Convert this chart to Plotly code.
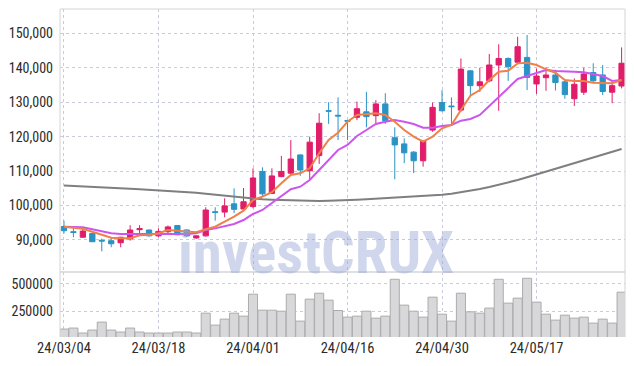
import plotly.graph_objects as go

dates = [
    "2024-03-04", "2024-03-05", "2024-03-06", "2024-03-07", "2024-03-08",
    "2024-03-11", "2024-03-12", "2024-03-13", "2024-03-14", "2024-03-15",
    "2024-03-18", "2024-03-19", "2024-03-20", "2024-03-21", "2024-03-22",
    "2024-03-25", "2024-03-26", "2024-03-27", "2024-03-28", "2024-03-29",
    "2024-04-01", "2024-04-02", "2024-04-03", "2024-04-04", "2024-04-05",
    "2024-04-08", "2024-04-09", "2024-04-11", "2024-04-12", "2024-04-15",
    "2024-04-16", "2024-04-17", "2024-04-18", "2024-04-19", "2024-04-22",
    "2024-04-23", "2024-04-24", "2024-04-25", "2024-04-26", "2024-04-29",
    "2024-04-30", "2024-05-02", "2024-05-03", "2024-05-07", "2024-05-08",
    "2024-05-09", "2024-05-10", "2024-05-13", "2024-05-14", "2024-05-16",
    "2024-05-17", "2024-05-20", "2024-05-21", "2024-05-22", "2024-05-23",
    "2024-05-24", "2024-05-27", "2024-05-28", "2024-05-29", "2024-05-30",
]

open_ = [93900, 92400, 90800, 91900, 89900, 89800, 89200, 90300, 93000, 92900,
         91200, 92400, 94200, 92900, 90600, 91200, 98200, 98100, 100500, 99000,
         99700, 109900, 103500, 108400, 109400, 114700, 110100, 114500, 127500, 126200,
         124700, 125600, 127200, 126100, 129500, 119700, 117900, 115500, 113000, 121900,
         129900, 128900, 127700, 139100, 134800, 136200, 140800, 142700, 141600, 143000,
         135300, 137100, 137900, 135900, 131000, 132900, 138600, 137900, 132900, 134700]
high = [95600, 93800, 93300, 92000, 90400, 90800, 90900, 94300, 94300, 93000,
        93400, 94200, 94300, 93000, 91300, 99500, 99500, 102100, 105000, 105100,
        110800, 111100, 110800, 114400, 119000, 114800, 120000, 126800, 130000, 131400,
        124800, 130200, 133000, 130600, 132600, 122700, 119500, 115800, 118800, 129900,
        133500, 131400, 142700, 139300, 140000, 144000, 146800, 143000, 149000, 149500,
        139800, 140100, 139400, 136400, 136900, 140000, 141300, 140800, 136000, 145900]
low = [91900, 90800, 90700, 89500, 86700, 87900, 87900, 89800, 91600, 91000,
       90800, 92000, 91400, 91000, 90300, 91000, 95600, 96600, 97800, 98800,
       99200, 102600, 103300, 108200, 109000, 108600, 107400, 112100, 123700, 119000,
       119000, 124800, 122700, 123900, 123700, 107600, 112300, 109400, 111300, 121400,
       127300, 123100, 127200, 132100, 133000, 135800, 127500, 136200, 141300, 133500,
       132400, 133300, 133400, 131000, 128900, 132100, 135600, 132100, 129700, 134000]
close = [92700, 92200, 92600, 89500, 89700, 88900, 90800, 92900, 93300, 91200,
         92500, 93800, 91500, 91200, 91200, 98700, 98000, 99900, 98900, 101100,
         108000, 103400, 108600, 109900, 113500, 110300, 118400, 123900, 127400, 126000,
         124500, 128100, 125800, 129500, 124600, 117600, 115300, 113000, 118700, 128500,
         127500, 128700, 139600, 134800, 135900, 140800, 142700, 140300, 146100, 137200,
         137600, 137900, 135700, 132200, 135200, 138200, 136200, 133100, 134800, 141300]

ma_short = [93860, 93480, 93280, 92410, 91450, 90670, 90490, 90490, 91360, 91450,
            91940, 92900, 92700, 92410, 92230, 93100, 93860, 95310, 96760, 98500,
            101610, 102570, 103850, 106460, 108870, 109360, 110810, 115170, 119030, 121150,
            124340, 126280, 126570, 126780, 126280, 124340, 121930, 120000, 118530, 119990,
            122420, 123380, 127740, 131890, 133540, 136440, 138850, 139140, 141270, 141470,
            140800, 139550, 138560, 136440, 136150, 136150, 135660, 135470, 135470, 136440]
ma_mid = [93860, 93860, 93680, 93100, 92410, 91940, 91740, 91740, 91650, 91650,
          91650, 91740, 91740, 91740, 91940, 92900, 93380, 94060, 94640, 95800,
          97550, 98710, 100650, 102570, 104720, 105470, 107420, 110320, 113220, 116130,
          117580, 120190, 121930, 123670, 124340, 124830, 124340, 123670, 122600, 122600,
          123090, 123380, 124630, 125120, 126280, 128900, 131600, 134320, 136730, 137600,
          138560, 139350, 139060, 138850, 138850, 138660, 138190, 137600, 136150, 136440]
ma_long = [105800, 105700, 105600, 105450, 105350, 105200, 105050, 104900, 104750, 104600,
           104500, 104350, 104150, 103950, 103700, 103400, 103100, 102800, 102500, 102200,
           101950, 101800, 101700, 101600, 101500, 101400, 101350, 101350, 101400, 101450,
           101550, 101700, 101850, 102000, 102150, 102300, 102400, 102500, 102600, 102800,
           103100, 103450, 103850, 104300, 104800, 105400, 106000, 106700, 107400, 108200,
           109000, 109800, 110600, 111400, 112200, 113000, 113800, 114700, 115600, 116400]

volume = [91000, 100000, 55000, 82000, 154000, 82000, 64000, 100000, 64000, 55000,
          55000, 55000, 64000, 64000, 55000, 235000, 127000, 181000, 235000, 208000,
          407000, 262000, 262000, 253000, 407000, 163000, 362000, 416000, 353000, 259000,
          199000, 208000, 253000, 190000, 208000, 542000, 308000, 253000, 199000, 380000,
          226000, 163000, 416000, 247000, 235000, 281000, 542000, 326000, 371000, 551000,
          335000, 226000, 172000, 217000, 190000, 199000, 145000, 181000, 145000, 425000]

tick_dates = ["2024-03-04", "2024-03-18", "2024-04-01", "2024-04-16", "2024-04-30", "2024-05-17"]
tick_text = ["24/03/04", "24/03/18", "24/04/01", "24/04/16", "24/04/30", "24/05/17"]
price_ticks = [90000, 100000, 110000, 120000, 130000, 140000, 150000]
volume_ticks = [250000, 500000]

RED = "#e11d6a"
BLUE = "#2a93c6"
GRID = "#c8cade"
FRAME = "#d4d4d8"
FONT = "Roboto Condensed, Roboto, sans-serif"

fig = go.Figure()
fig.add_trace(go.Candlestick(
    x=dates, open=open_, high=high, low=low, close=close,
    increasing=dict(line=dict(color=RED, width=1), fillcolor=RED),
    decreasing=dict(line=dict(color=BLUE, width=1), fillcolor=BLUE),
    whiskerwidth=0, xaxis="x", yaxis="y", showlegend=False, hoverinfo="skip"))
fig.add_trace(go.Scatter(x=dates, y=ma_long, mode="lines", line=dict(color="#7f7f7f", width=2),
                         xaxis="x", yaxis="y", showlegend=False, hoverinfo="skip"))
fig.add_trace(go.Scatter(x=dates, y=ma_mid, mode="lines", line=dict(color="#cc55ee", width=2),
                         xaxis="x", yaxis="y", showlegend=False, hoverinfo="skip"))
fig.add_trace(go.Scatter(x=dates, y=ma_short, mode="lines", line=dict(color="#ee8048", width=2),
                         xaxis="x", yaxis="y", showlegend=False, hoverinfo="skip"))
fig.add_trace(go.Bar(x=dates, y=volume, marker=dict(color="#d8d8da", line=dict(color="#acacae", width=1)),
                     xaxis="x2", yaxis="y2", showlegend=False, hoverinfo="skip"))

split = (337 - 272) / 328
xr = [-0.42, 59.36]
common_x = dict(type="category", range=xr, tickvals=tick_dates, ticktext=tick_text,
                showgrid=True, gridcolor=GRID, griddash="dot", gridwidth=1,
                showline=False, zeroline=False, ticks="", fixedrange=True, automargin=False)
fig.update_layout(
    width=634, height=366,
    margin=dict(l=60, r=9, t=9, b=29),
    paper_bgcolor="white", plot_bgcolor="white",
    bargap=0.04, boxgap=0.2,
    font=dict(family=FONT, size=14, color="#2b2b2b"),
    xaxis=dict(common_x, anchor="y", showticklabels=False, rangeslider=dict(visible=False)),
    xaxis2=dict(common_x, anchor="y2", matches="x", showticklabels=True,
                tickfont=dict(family=FONT, size=14.5, color="#2b2b2b")),
    yaxis=dict(domain=[split, 1], range=[80710, 157050], tickvals=price_ticks, tickformat=",",
               showgrid=True, gridcolor=GRID, griddash="dot", zeroline=False, showline=False,
               ticklabelstandoff=6, automargin=False),
    yaxis2=dict(domain=[0, split], range=[19000, 608000], tickvals=volume_ticks, tickformat="d",
                showgrid=True, gridcolor=GRID, griddash="dot", zeroline=False, showline=False,
                ticklabelstandoff=6, automargin=False),
    shapes=[
        dict(type="line", xref="paper", yref="paper", x0=0, x1=1, y0=1, y1=1, line=dict(color=FRAME, width=1)),
        dict(type="line", xref="paper", yref="paper", x0=0, x1=0, y0=0, y1=1, line=dict(color=FRAME, width=1)),
        dict(type="line", xref="paper", yref="paper", x0=1, x1=1, y0=0, y1=1, line=dict(color=FRAME, width=1)),
        dict(type="line", xref="paper", yref="paper", x0=0, x1=1, y0=split, y1=split, line=dict(color=FRAME, width=1.5)),
    ],
    annotations=[
        dict(text="<b>investCRUX</b>", xref="paper", yref="paper", x=(316 - 60) / 565, y=(337 - 252) / 328,
             xanchor="center", yanchor="middle", showarrow=False,
             font=dict(family="Roboto Condensed, Roboto, sans-serif", size=59,
                       color="rgba(150,165,212,0.45)")),
    ],
)

fig.write_html("out.html", config={"displayModeBar": False},
               post_script="document.body.style.margin='0';document.body.style.overflow='hidden';")
